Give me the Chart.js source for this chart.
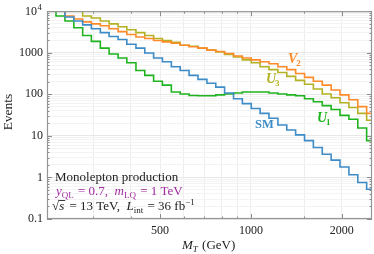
<!DOCTYPE html>
<html>
<head>
<meta charset="utf-8">
<script src="https://cdn.jsdelivr.net/npm/chart.js@4"></script>
<style>
  html, body { margin: 0; padding: 0; background: #fff; }
  #wrap { width: 374px; height: 254px; }
</style>
</head>
<body>
<div id="wrap"><canvas id="chart"></canvas></div>
<script>
// bin edges in M_T (GeV), log-spaced
const binEdges = [211, 226, 242, 259, 277, 296, 317, 339, 363, 388, 416, 445, 476, 509, 545, 583, 624, 668, 715, 765,
  818, 876, 937, 1003, 1073, 1148, 1229, 1315, 1407, 1506, 1611, 1724, 1845, 1974, 2113, 2261, 2419, 2589];

// events per bin
const smValues = [10000, 10000, 7240, 5830, 4700, 3790, 3050, 2460, 2090, 1600, 1290, 984, 751, 606, 462, 373, 285, 229, 185,
  149, 108, 78, 59.6, 45.5, 34.8, 26.5, 18.2, 13.9, 10.6, 7.68, 5.26, 3.61, 2.61, 1.79, 1.16, 0.755, 0.518];
const u1Values = [10000, 7640, 5830, 4000, 2600, 1880, 1290, 932, 751, 574, 373, 285, 206, 166, 114, 102, 94, 92, 92,
  97, 102, 108, 114, 114, 114, 108, 102, 97, 92, 78, 66.4, 53.5, 43.1, 31.2, 25.1, 15.5, 7.68];
const v2Values = [10000, 10000, 7640, 6500, 5530, 4960, 4450, 3790, 3220, 2740, 2400, 2210, 1980, 1830, 1690, 1520, 1400, 1290, 1160,
  1070, 958, 837, 751, 675, 606, 544, 462, 393, 317, 256, 206, 166, 127, 96.8, 73.9, 50.7, 34.8];
const u3Values = [10000, 10000, 10000, 10000, 7640, 6860, 5830, 4960, 4220, 3590, 3050, 2600, 2210, 1980, 1780, 1520, 1435, 1290, 1160,
  1040, 907, 793, 675, 574, 462, 393, 335, 270, 217, 175, 134, 102, 82.4, 62.9, 48.0, 34.8, 23.8];

const yDecades = [0.1, 1, 10, 100, 1000, 10000];
const xTickLabels = [500, 1000, 2000];
const xGridValues = [300, 400, 500, 600, 700, 800, 900, 1000, 1500, 2000];

const SERIF = "'Liberation Serif', 'DejaVu Serif', serif";
const C_SM = '#3d8cc8';
const C_U1 = '#1fb41f';
const C_V2 = '#ff8a2a';
const C_U3 = '#b2b224';
const C_PURPLE = '#a02ca0';

// histogram -> step points (value held until next edge)
function histPoints(vals) {
  const pts = vals.map((v, i) => ({ x: binEdges[i], y: v }));
  pts.push({ x: binEdges[vals.length], y: vals[vals.length - 1] });
  return pts;
}

function ds(label, vals, color) {
  return {
    label: label,
    data: histPoints(vals),
    borderColor: color,
    borderWidth: 1.6,
    stepped: true,
    pointRadius: 0,
    fill: false,
  };
}

// draw a run of text pieces one after another
function rich(ctx, x, y, parts, color) {
  ctx.fillStyle = color;
  ctx.textAlign = 'left';
  ctx.textBaseline = 'alphabetic';
  for (const p of parts) {
    ctx.font = p.f;
    ctx.fillText(p.t, x, y + (p.dy || 0));
    x += ctx.measureText(p.t).width + (p.gap || 0);
  }
  return x;
}

const frameAndText = {
  id: 'frameAndText',
  afterDraw(chart) {
    const ctx = chart.ctx;
    const a = chart.chartArea;
    const xs = chart.scales.x, ys = chart.scales.y;
    ctx.save();

    // tick marks inside the frame
    ctx.strokeStyle = '#8a8a8a';
    ctx.lineWidth = 1;
    ctx.beginPath();
    yDecades.forEach(d => {
      for (let m = 1; m <= 9; m++) {
        const v = d * m;
        if (v > 10000) break;
        const y = Math.round(ys.getPixelForValue(v)) + 0.5;
        const len = m === 1 ? 5 : 2.5;
        ctx.moveTo(a.left, y); ctx.lineTo(a.left + len, y);
        ctx.moveTo(a.right, y); ctx.lineTo(a.right - len, y);
      }
    });
    xGridValues.forEach(v => {
      const x = Math.round(xs.getPixelForValue(v)) + 0.5;
      const len = xTickLabels.includes(v) ? 5 : 2.5;
      ctx.moveTo(x, a.bottom); ctx.lineTo(x, a.bottom - len);
      ctx.moveTo(x, a.top); ctx.lineTo(x, a.top + len);
    });
    ctx.stroke();

    // frame
    ctx.strokeStyle = '#959595';
    ctx.lineWidth = 1.2;
    ctx.strokeRect(a.left + 0.5, a.top + 0.5, a.right - a.left - 1, a.bottom - a.top - 1);

    // 10^4 label
    ctx.fillStyle = '#222';
    ctx.textAlign = 'right';
    ctx.font = '12px ' + SERIF;
    ctx.fillText('10', 37, 15);
    ctx.textAlign = 'left';
    ctx.font = '8.5px ' + SERIF;
    ctx.fillText('4', 37.5, 10);

    // axis titles
    ctx.save();
    ctx.translate(12, 112);
    ctx.rotate(-Math.PI / 2);
    ctx.textAlign = 'center';
    ctx.font = '13.5px ' + SERIF;
    ctx.fillText('Events', 0, 0);
    ctx.restore();

    const it = 'italic 13px ' + SERIF;
    const rm = '13px ' + SERIF;
    const sub = '9px ' + SERIF;
    rich(ctx, 182, 249, [
      { t: 'M', f: it },
      { t: 'T', f: 'italic 9px ' + SERIF, dy: 3, gap: 1 },
      { t: ' (GeV)', f: rm },
    ], '#222');

    // annotation block
    rich(ctx, 55, 181, [{ t: 'Monolepton production', f: rm }], '#222');
    rich(ctx, 56, 195, [
      { t: 'y', f: it },
      { t: 'QL', f: sub, dy: 3, gap: 1 },
      { t: ' = 0.7,  ', f: rm },
      { t: 'm', f: it },
      { t: 'LQ', f: sub, dy: 3, gap: 1 },
      { t: ' = 1 TeV', f: rm },
    ], C_PURPLE);
    let x = rich(ctx, 52, 210, [{ t: '\u221A', f: rm }], '#222');
    const sx = x;
    x = rich(ctx, x, 210, [{ t: 's', f: it, gap: 2 }], '#222');
    ctx.strokeStyle = '#222';
    ctx.lineWidth = 0.9;
    ctx.beginPath();
    ctx.moveTo(sx - 0.5, 200.5); ctx.lineTo(x - 1, 200.5);
    ctx.stroke();
    rich(ctx, x, 210, [
      { t: ' = 13 TeV,  ', f: rm },
      { t: 'L', f: it },
      { t: 'int', f: sub, dy: 3, gap: 1 },
      { t: ' = 36 fb', f: rm },
      { t: '\u22121', f: sub, dy: -5 },
    ], '#222');

    // curve labels
    const lab = 'italic bold 14px ' + SERIF;
    const lsub = 'bold 9px ' + SERIF;
    rich(ctx, 288, 63, [{ t: 'V', f: lab, gap: -1 }, { t: '2', f: lsub, dy: 3 }], C_V2);
    rich(ctx, 266, 83, [{ t: 'U', f: lab, gap: -1 }, { t: '3', f: lsub, dy: 3 }], C_U3);
    rich(ctx, 317, 122, [{ t: 'U', f: lab, gap: -1 }, { t: '1', f: lsub, dy: 3 }], C_U1);
    rich(ctx, 255, 128, [{ t: 'SM', f: 'bold 12.5px ' + SERIF }], C_SM);

    ctx.restore();
  }
};

new Chart(document.getElementById('chart'), {
  type: 'line',
  data: {
    datasets: [
      ds('SM', smValues, C_SM),
      ds('V2', v2Values, C_V2),
      ds('U3', u3Values, C_U3),
      ds('U1', u1Values, C_U1),
    ]
  },
  options: {
    responsive: true,
    maintainAspectRatio: false,
    animation: false,
    layout: { padding: { top: 5, right: 2, left: 0, bottom: 0 } },
    plugins: { legend: { display: false }, tooltip: { enabled: false } },
    scales: {
      x: {
        type: 'logarithmic',
        min: 211,
        max: 2520,
        afterFit: s => { s.height = 35; },
        afterBuildTicks: s => { s.ticks = xGridValues.map(v => ({ value: v })); },
        border: { display: false },
        grid: { color: '#eeeeee', lineWidth: 1, drawTicks: false },
        ticks: {
          autoSkip: false,
          maxRotation: 0,
          padding: 5,
          color: '#222',
          font: { family: SERIF, size: 12 },
          callback: v => xTickLabels.includes(v) ? String(v) : '',
        },
      },
      y: {
        type: 'logarithmic',
        min: 0.1,
        max: 10000,
        afterFit: s => { s.width = 47; },
        afterBuildTicks: s => {
          const t = [];
          yDecades.forEach(d => {
            for (let m = 1; m <= 9; m++) {
              if (d * m <= 10000) t.push({ value: d * m });
            }
          });
          s.ticks = t;
        },
        border: { display: false },
        grid: {
          drawTicks: false,
          lineWidth: 1,
          color: c => yDecades.includes(c.tick && c.tick.value) ? '#e8e8e8' : '#f3f3f3',
        },
        ticks: {
          autoSkip: false,
          padding: 4,
          color: '#222',
          font: { family: SERIF, size: 12 },
          callback: v => {
            if (v === 10000) return '';
            return yDecades.includes(v) ? String(v) : '';
          },
        },
      },
    },
  },
  plugins: [frameAndText],
});
</script>
</body>
</html>
